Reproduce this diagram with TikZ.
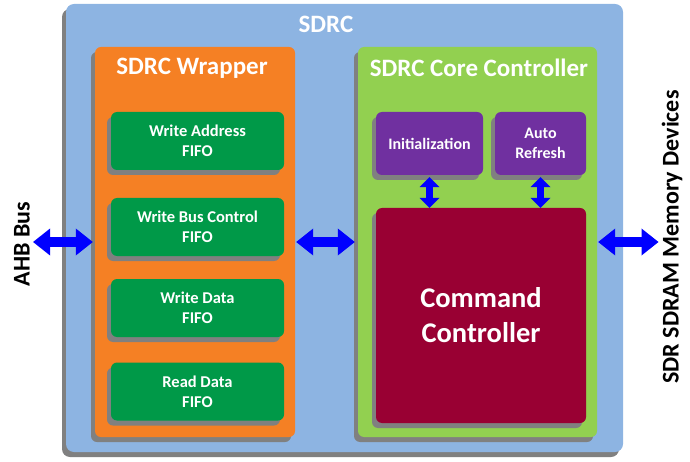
\documentclass[tikz,border=0pt]{standalone}
\usepackage{fontspec}
\setmainfont{Carlito}
\usetikzlibrary{arrows.meta,shadows}
\definecolor{sdrcblue}{RGB}{141,180,226}
\definecolor{wraporange}{RGB}{245,128,36}
\definecolor{fifogreen}{RGB}{0,153,72}
\definecolor{coregreen}{RGB}{146,208,80}
\definecolor{ctrlpurple}{RGB}{112,48,160}
\definecolor{cmdred}{RGB}{153,0,51}
\definecolor{shadegray}{RGB}{128,128,128}

\begin{document}
\begin{tikzpicture}[x=1pt,y=-1pt,
    blk/.style={rounded corners=6pt,inner sep=0pt,text=white,align=center,
      drop shadow={shadow xshift=-4pt,shadow yshift=-5pt,fill=shadegray,opacity=1}},
    fifo/.style={blk,fill=fifogreen,minimum width=173pt,minimum height=58pt,
      font=\bfseries\fontsize{16.5}{20}\selectfont},
    ctrl/.style={blk,fill=ctrlpurple,minimum height=63pt,
      font=\bfseries\fontsize{16}{20}\selectfont},
    title/.style={text=white,font=\bfseries\fontsize{25}{29}\selectfont},
    side/.style={rotate=90,inner sep=3pt,font=\bfseries\fontsize{24}{28}\selectfont},
    bus/.style={line width=10pt,blue,
      {Triangle[length=17pt,width=27pt,line width=0pt]}-{Triangle[length=17pt,width=27pt,line width=0pt]}},
    link/.style={line width=7pt,blue,
      {Triangle[length=10pt,width=20pt,line width=0pt]}-{Triangle[length=10pt,width=20pt,line width=0pt]}}]
  \useasboundingbox (0,0) rectangle (690,462);
  % outer block
  \node[blk,rounded corners=8pt,fill=sdrcblue,minimum width=557pt,minimum height=448pt] (sdrc) at (344.5,228) {};
  \node[title] (sdrctitle) at (326,24) {SDRC};
  % wrapper and its fifos
  \node[blk,fill=wraporange,minimum width=200pt,minimum height=390pt] (wrap) at (195,242) {};
  \node[title] (wraptitle) at (192,68) {SDRC Wrapper};
  \node[fifo] (wafifo) at (197.5,141) {Write Address\\FIFO};
  \node[fifo] (wbfifo) at (197.5,227) {Write Bus Control\\FIFO};
  \node[fifo] (wdfifo) at (197.5,308) {Write Data\\FIFO};
  \node[fifo] (rdfifo) at (197.5,391.5) {Read Data\\FIFO};
  % core controller
  \node[blk,fill=coregreen,minimum width=239pt,minimum height=390pt] (core) at (477.5,242) {};
  \node[title] (coretitle) at (479,68) {SDRC Core Controller};
  \node[ctrl,minimum width=107pt] (init) at (429.5,143.5) {Initialization};
  \node[ctrl,minimum width=91pt] (aref) at (540.5,143.5) {Auto\\Refresh};
  \node[blk,fill=cmdred,minimum width=210pt,minimum height=215pt,
    font=\bfseries\fontsize{28.5}{35}\selectfont] (cmd) at (481,315.5) {Command\\Controller};
  % outside
  \node[side] (ahb) at (22,244) {AHB Bus};
  \node[side] (mem) at (672,237) {SDR SDRAM Memory Devices};
  % connectors
  \draw[bus,shorten >=2pt] (ahb.south |- wrap.west) -- (wrap.west);
  \draw[bus,shorten <=1pt,shorten >=3pt] (wrap.east) -- (core.west);
  \draw[bus,shorten <=1pt] (core.east) -- (core.east -| mem.north);
  \draw[link,shorten <=2pt] (init.south) -- (init.south |- cmd.north);
  \draw[link,shorten <=2pt] (aref.south) -- (aref.south |- cmd.north);
\end{tikzpicture}
\end{document}
